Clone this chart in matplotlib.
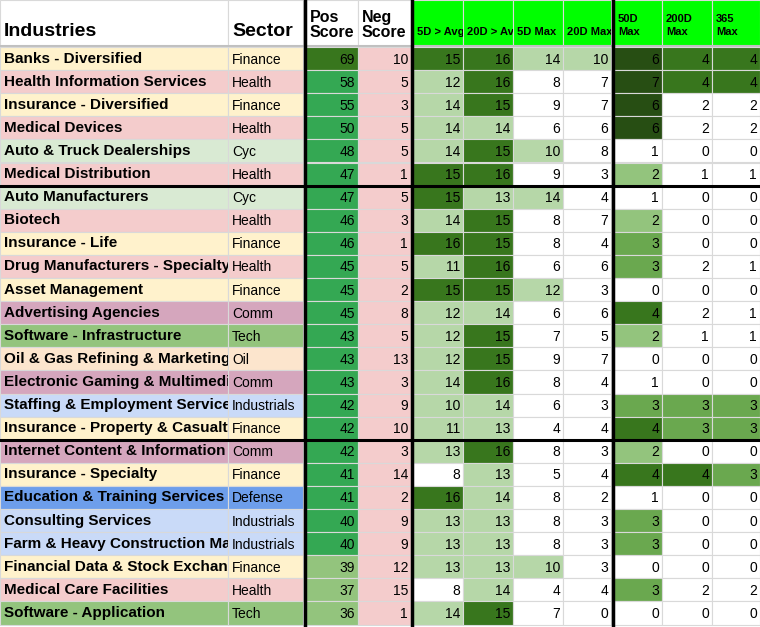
import matplotlib.pyplot as plt
from matplotlib.patches import Rectangle

plt.rcParams["font.family"] = ["Liberation Sans", "DejaVu Sans"]

industries = ["Banks - Diversified", "Health Information Services", "Insurance - Diversified",
              "Medical Devices", "Auto & Truck Dealerships", "Medical Distribution",
              "Auto Manufacturers", "Biotech", "Insurance - Life",
              "Drug Manufacturers - Specialty & Generic", "Asset Management", "Advertising Agencies",
              "Software - Infrastructure", "Oil & Gas Refining & Marketing",
              "Electronic Gaming & Multimedia", "Staffing & Employment Services",
              "Insurance - Property & Casualty", "Internet Content & Information",
              "Insurance - Specialty", "Education & Training Services", "Consulting Services",
              "Farm & Heavy Construction Machinery", "Financial Data & Stock Exchanges",
              "Medical Care Facilities", "Software - Application"]
sectors = ["Finance", "Health", "Finance", "Health", "Cyc", "Health", "Cyc", "Health", "Finance",
           "Health", "Finance", "Comm", "Tech", "Oil", "Comm", "Industrials", "Finance", "Comm",
           "Finance", "Defense", "Industrials", "Industrials", "Finance", "Health", "Tech"]
pos_score = [69, 58, 55, 50, 48, 47, 47, 46, 46, 45, 45, 45, 43, 43, 43, 42, 42, 42, 41, 41, 40, 40, 39, 37, 36]
neg_score = [10, 5, 3, 5, 5, 1, 5, 3, 1, 5, 2, 8, 5, 13, 3, 9, 10, 3, 14, 2, 9, 9, 12, 15, 1]
d5_avg = [15, 12, 14, 14, 14, 15, 15, 14, 16, 11, 15, 12, 12, 12, 14, 10, 11, 13, 8, 16, 13, 13, 13, 8, 14]
d20_avg = [16, 16, 15, 14, 15, 16, 13, 15, 15, 16, 15, 14, 15, 15, 16, 14, 13, 16, 13, 14, 13, 13, 13, 14, 15]
d5_max = [14, 8, 9, 6, 10, 9, 14, 8, 8, 6, 12, 6, 7, 9, 8, 6, 4, 8, 5, 8, 8, 8, 10, 4, 7]
d20_max = [10, 7, 7, 6, 8, 3, 4, 7, 4, 6, 3, 6, 5, 7, 4, 3, 4, 3, 4, 2, 3, 3, 3, 4, 0]
d50_max = [6, 7, 6, 6, 1, 2, 1, 2, 3, 3, 0, 4, 2, 0, 1, 3, 4, 2, 4, 1, 3, 3, 0, 3, 0]
d200_max = [4, 4, 2, 2, 0, 1, 0, 0, 0, 2, 0, 2, 1, 0, 0, 3, 3, 0, 4, 0, 0, 0, 0, 2, 0]
d365_max = [4, 4, 2, 2, 0, 1, 0, 0, 0, 1, 0, 1, 1, 0, 0, 3, 3, 0, 3, 0, 0, 0, 0, 2, 0]
headers = ["Industries", "Sector", "Pos\nScore", "Neg\nScore", "5D > Avg", "20D > Avg",
           "5D Max", "20D Max", "50D\nMax", "200D\nMax", "365\nMax"]

sector_colors = {"Finance": "#fff2cc", "Health": "#f4cccc", "Cyc": "#d9ead3", "Comm": "#d5a6bd",
                 "Tech": "#93c47d", "Oil": "#fce5cd", "Industrials": "#c9daf8", "Defense": "#6d9eeb"}

def pos_color(v):
    if v >= 60: return "#38761d"
    if v >= 40: return "#34a853"
    return "#93c47d"

def avg_color(v):
    if v >= 15: return "#38761d"
    if v >= 10: return "#b6d7a8"
    return "white"

def max_color(v):
    return "#b6d7a8" if v >= 10 else "white"

def long_color(v):
    if v >= 6: return "#274e13"
    if v >= 4: return "#38761d"
    if v >= 3: return "#6aa84f"
    if v >= 2: return "#93c47d"
    return "white"

def long_color2(v):
    if v >= 4: return "#38761d"
    if v >= 3: return "#6aa84f"
    return "white"

cols = [(0, 228), (228, 303), (306, 358), (358, 411), (413, 463), (463, 513),
        (513, 563), (563, 611), (614, 662), (662, 712), (712, 760)]
head_h, row_h, top = 45, 23.1, 47

fig = plt.figure(figsize=(7.6, 6.27), dpi=100)
ax = fig.add_axes([0, 0, 1, 1])
ax.set_xlim(0, 760)
ax.set_ylim(627, 0)
ax.axis("off")

def clipped_text(cell, *args, **kw):
    t = ax.text(*args, clip_on=True, **kw)
    t.set_clip_path(cell)
    return t

# header
for i, (x0, x1) in enumerate(cols):
    fc = "#00ff00" if i >= 4 else "white"
    cell = Rectangle((x0, 0), x1 - x0, head_h, fc=fc, ec="#d9d9d9", lw=0.8)
    ax.add_patch(cell)
    if i < 2:
        ax.text(x0 + 4, head_h - 5, headers[i], fontsize=14, fontweight="bold", va="bottom")
    elif i < 4:
        ax.text(x0 + 4, head_h - 5, headers[i], fontsize=11.5, fontweight="bold", va="bottom",
                linespacing=1.0)
    else:
        clipped_text(cell, x0 + 4, head_h - 8, headers[i], fontsize=8, fontweight="bold",
                     va="bottom", linespacing=1.4)
ax.add_patch(Rectangle((0, head_h), 760, 2.5, fc="#c0c0c0", ec="none"))

columns = [pos_score, neg_score, d5_avg, d20_avg, d5_max, d20_max, d50_max, d200_max, d365_max]
colorers = [pos_color, lambda v: "#f4cccc", avg_color, avg_color, max_color, max_color,
            long_color, long_color2, long_color2]

for r in range(len(industries)):
    y = top + r * row_h
    sc = sector_colors[sectors[r]]
    cell = Rectangle((0, y), 228, row_h, fc=sc, ec="#d9d9d9", lw=0.8)
    ax.add_patch(cell)
    clipped_text(cell, 4, y + row_h / 2, industries[r], fontsize=11, fontweight="bold", va="center")
    scell = Rectangle((228, y), 75, row_h, fc=sc, ec="#d9d9d9", lw=0.8)
    ax.add_patch(scell)
    clipped_text(scell, 232, y + row_h / 2 + 1, sectors[r], fontsize=10, va="center")
    for c, (vals, fn) in enumerate(zip(columns, colorers)):
        x0, x1 = cols[c + 2]
        ax.add_patch(Rectangle((x0, y), x1 - x0, row_h, fc=fn(vals[r]), ec="#d9d9d9", lw=0.8))
        ax.text(x1 - 3, y + row_h / 2 + 1, str(vals[r]), fontsize=10, ha="right", va="center")

# thick separators
bottom = top + len(industries) * row_h
for x in [304.5, 412, 612.5]:
    ax.plot([x, x], [0, bottom], color="black", lw=2.5)
for r in [6, 17]:
    y = top + r * row_h
    ax.plot([0, 760], [y, y], color="black", lw=2.2)

fig.savefig("out.png", dpi=100)
